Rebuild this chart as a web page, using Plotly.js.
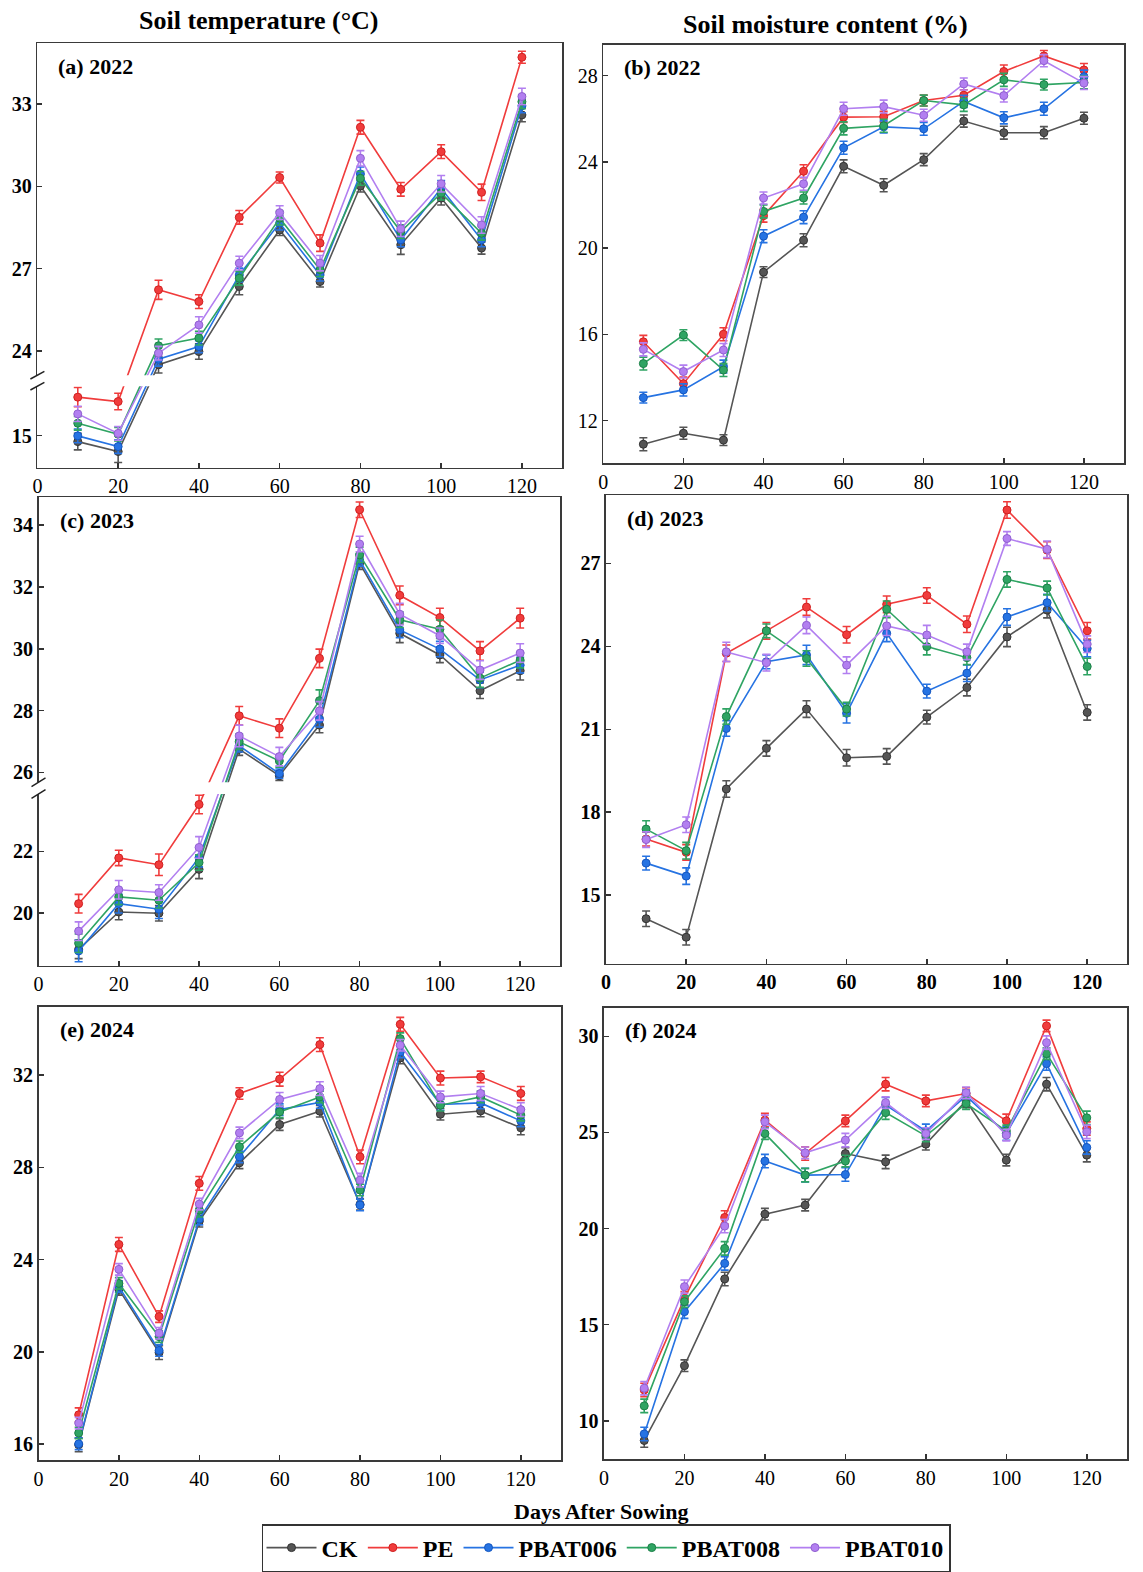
<!DOCTYPE html>
<html>
<head>
<meta charset="utf-8">
<script src="https://cdn.plot.ly/plotly-3.0.1.min.js"></script>
<style>html,body{margin:0;padding:0;background:#fff;}#chart{width:1143px;height:1572px;}</style>
</head>
<body>
<div id="chart"></div>
<script>
// ---------------- DATA ----------------
const days = [10, 20, 30, 40, 50, 60, 70, 80, 90, 100, 110, 120];
const seriesNames = ['CK', 'PE', 'PBAT006', 'PBAT008', 'PBAT010'];
const xTickVals = [0, 20, 40, 60, 80, 100, 120];

// (a) Soil temperature 2022 (°C)
const a_CK   = [14.78, 14.42, 23.50, 23.98, 26.35, 28.41, 26.53, 30.01, 27.87, 29.57, 27.75, 32.60];
const a_PE   = [16.40, 16.24, 26.23, 25.80, 28.87, 30.32, 27.93, 32.15, 29.89, 31.26, 29.78, 34.70];
const a_P006 = [14.99, 14.60, 23.70, 24.16, 26.77, 28.66, 26.77, 30.45, 28.05, 29.93, 28.05, 32.93];
const a_P008 = [15.45, 15.05, 24.19, 24.47, 26.65, 28.84, 26.96, 30.29, 28.35, 29.75, 28.29, 33.08];
const a_P010 = [15.79, 15.08, 23.92, 24.95, 27.20, 29.04, 27.20, 31.02, 28.45, 30.09, 28.59, 33.27];
const a_eCK   = [0.30, 0.40, 0.30, 0.28, 0.30, 0.20, 0.20, 0.22, 0.35, 0.25, 0.22, 0.25];
const a_ePE   = [0.35, 0.30, 0.35, 0.25, 0.25, 0.20, 0.30, 0.25, 0.25, 0.25, 0.30, 0.22];
const a_eP006 = [0.25, 0.25, 0.25, 0.22, 0.25, 0.25, 0.22, 0.25, 0.25, 0.28, 0.25, 0.25];
const a_eP008 = [0.25, 0.25, 0.25, 0.25, 0.25, 0.25, 0.25, 0.25, 0.25, 0.25, 0.25, 0.25];
const a_eP010 = [0.28, 0.25, 0.25, 0.30, 0.25, 0.25, 0.28, 0.28, 0.28, 0.30, 0.30, 0.30];
const a_yTicks = [15, 24, 27, 30, 33];

// (b) Soil moisture content 2022 (%)
const b_CK   = [10.90, 11.41, 11.09, 18.88, 20.36, 23.79, 22.91, 24.10, 25.89, 25.35, 25.35, 26.02];
const b_PE   = [15.65, 13.71, 16.00, 21.50, 23.56, 26.07, 26.09, 26.84, 27.09, 28.19, 28.91, 28.26];
const b_P006 = [13.06, 13.42, 14.50, 20.55, 21.43, 24.65, 25.62, 25.53, 26.80, 26.04, 26.46, 27.95];
const b_P008 = [14.64, 15.96, 14.34, 21.70, 22.32, 25.55, 25.67, 26.84, 26.64, 27.80, 27.58, 27.68];
const b_P010 = [15.30, 14.27, 15.27, 22.32, 22.98, 26.46, 26.56, 26.16, 27.61, 27.07, 28.69, 27.65];
const b_eCK   = [0.30, 0.28, 0.25, 0.25, 0.30, 0.30, 0.30, 0.28, 0.28, 0.30, 0.28, 0.28];
const b_ePE   = [0.30, 0.30, 0.30, 0.30, 0.30, 0.25, 0.25, 0.25, 0.25, 0.30, 0.25, 0.30];
const b_eP006 = [0.25, 0.28, 0.30, 0.30, 0.30, 0.30, 0.28, 0.30, 0.28, 0.28, 0.30, 0.30];
const b_eP008 = [0.30, 0.25, 0.30, 0.30, 0.28, 0.30, 0.30, 0.25, 0.30, 0.30, 0.25, 0.30];
const b_eP010 = [0.30, 0.30, 0.30, 0.28, 0.30, 0.30, 0.30, 0.28, 0.28, 0.30, 0.28, 0.30];
const b_yTicks = [12, 16, 20, 24, 28];

// (c) Soil temperature 2023 (°C)
const c_CK   = [18.83, 20.04, 20.00, 21.42, 26.75, 25.89, 27.53, 32.77, 30.50, 29.80, 28.64, 29.29];
const c_PE   = [20.31, 21.79, 21.57, 23.52, 27.83, 27.43, 29.69, 34.50, 31.73, 31.01, 29.93, 30.99];
const c_P006 = [18.78, 20.31, 20.13, 21.80, 26.86, 25.96, 27.72, 32.87, 30.61, 29.99, 28.99, 29.47];
const c_P008 = [19.03, 20.53, 20.42, 21.64, 26.99, 26.37, 28.32, 33.04, 30.94, 30.63, 29.05, 29.63];
const c_P010 = [19.42, 20.76, 20.67, 22.13, 27.18, 26.51, 27.99, 33.39, 31.12, 30.42, 29.31, 29.86];
const c_eCK   = [0.30, 0.25, 0.25, 0.30, 0.20, 0.15, 0.25, 0.20, 0.30, 0.25, 0.25, 0.30];
const c_ePE   = [0.30, 0.25, 0.35, 0.30, 0.30, 0.30, 0.30, 0.25, 0.30, 0.30, 0.30, 0.32];
const c_eP006 = [0.35, 0.30, 0.30, 0.30, 0.20, 0.15, 0.25, 0.20, 0.25, 0.25, 0.25, 0.25];
const c_eP008 = [0.30, 0.25, 0.25, 0.25, 0.25, 0.20, 0.35, 0.25, 0.25, 0.30, 0.30, 0.25];
const c_eP010 = [0.30, 0.30, 0.25, 0.35, 0.35, 0.30, 0.30, 0.25, 0.35, 0.25, 0.30, 0.30];
const c_yTicks = [20, 22, 26, 28, 30, 32, 34];

// (d) Soil moisture content 2023 (%)
const d_CK   = [14.15, 13.48, 18.84, 20.31, 21.73, 19.97, 20.02, 21.44, 22.51, 24.34, 25.31, 21.61];
const d_PE   = [17.03, 16.55, 23.75, 24.56, 25.42, 24.42, 25.52, 25.84, 24.80, 28.93, 27.48, 24.56];
const d_P006 = [16.16, 15.69, 21.03, 23.44, 23.69, 21.58, 24.47, 22.38, 23.03, 25.06, 25.58, 23.92];
const d_P008 = [17.39, 16.61, 21.46, 24.56, 23.56, 21.73, 25.34, 23.99, 23.59, 26.42, 26.11, 23.27];
const d_P010 = [17.01, 17.55, 23.80, 23.41, 24.76, 23.32, 24.74, 24.41, 23.80, 27.90, 27.51, 24.08];
const d_eCK   = [0.28, 0.28, 0.30, 0.28, 0.30, 0.30, 0.28, 0.25, 0.30, 0.35, 0.28, 0.28];
const d_ePE   = [0.25, 0.28, 0.30, 0.30, 0.30, 0.30, 0.30, 0.28, 0.30, 0.30, 0.30, 0.30];
const d_eP006 = [0.25, 0.30, 0.28, 0.25, 0.35, 0.35, 0.30, 0.25, 0.30, 0.30, 0.30, 0.30];
const d_eP008 = [0.30, 0.30, 0.28, 0.25, 0.28, 0.25, 0.30, 0.30, 0.25, 0.28, 0.25, 0.30];
const d_eP010 = [0.28, 0.28, 0.35, 0.30, 0.30, 0.30, 0.35, 0.35, 0.28, 0.25, 0.30, 0.30];
const d_yTicks = [15, 18, 21, 24, 27];

// (e) Soil temperature 2024 (°C)
const e_CK   = [15.97, 22.71, 19.97, 25.67, 28.20, 29.86, 30.44, 26.40, 32.75, 30.31, 30.45, 29.72];
const e_PE   = [17.27, 24.66, 21.53, 27.31, 31.21, 31.83, 33.33, 28.46, 34.21, 31.88, 31.93, 31.21];
const e_P006 = [16.01, 22.83, 20.06, 25.76, 28.46, 30.51, 30.82, 26.37, 33.01, 30.73, 30.80, 30.02];
const e_P008 = [16.48, 22.97, 20.66, 26.15, 28.90, 30.41, 31.06, 27.02, 33.59, 30.70, 31.06, 30.27];
const e_P010 = [16.91, 23.58, 20.81, 26.41, 29.50, 30.95, 31.42, 27.45, 33.30, 31.06, 31.21, 30.51];
const e_eCK   = [0.30, 0.25, 0.30, 0.25, 0.25, 0.25, 0.25, 0.25, 0.25, 0.25, 0.25, 0.30];
const e_ePE   = [0.30, 0.30, 0.25, 0.30, 0.25, 0.30, 0.30, 0.30, 0.30, 0.30, 0.25, 0.30];
const e_eP006 = [0.25, 0.25, 0.25, 0.25, 0.25, 0.25, 0.25, 0.25, 0.25, 0.25, 0.25, 0.25];
const e_eP008 = [0.25, 0.25, 0.25, 0.30, 0.25, 0.25, 0.25, 0.25, 0.25, 0.25, 0.25, 0.25];
const e_eP010 = [0.25, 0.25, 0.25, 0.25, 0.25, 0.30, 0.30, 0.30, 0.25, 0.25, 0.30, 0.30];
const e_yTicks = [16, 20, 24, 28, 32];

// (f) Soil moisture content 2024 (%)
const f_CK   = [8.98, 12.87, 17.38, 20.75, 21.22, 23.90, 23.47, 24.39, 26.64, 23.56, 27.51, 23.82];
const f_PE   = [11.61, 16.37, 20.58, 25.64, 23.90, 25.60, 27.51, 26.64, 27.02, 25.60, 30.54, 25.20];
const f_P006 = [9.32, 15.68, 18.19, 23.51, 22.78, 22.81, 26.42, 25.08, 26.90, 24.94, 28.58, 24.22];
const f_P008 = [10.78, 16.20, 18.97, 24.94, 22.78, 23.51, 26.03, 24.82, 26.50, 25.08, 29.10, 25.76];
const f_P010 = [11.70, 16.98, 20.13, 25.55, 23.94, 24.60, 26.55, 24.94, 27.06, 24.86, 29.67, 25.03];
const f_eCK   = [0.35, 0.30, 0.35, 0.30, 0.30, 0.30, 0.35, 0.30, 0.35, 0.30, 0.35, 0.35];
const f_ePE   = [0.35, 0.35, 0.35, 0.35, 0.35, 0.30, 0.35, 0.30, 0.30, 0.35, 0.30, 0.35];
const f_eP006 = [0.35, 0.35, 0.35, 0.35, 0.35, 0.35, 0.40, 0.35, 0.30, 0.35, 0.35, 0.35];
const f_eP008 = [0.35, 0.30, 0.35, 0.30, 0.35, 0.30, 0.35, 0.30, 0.30, 0.30, 0.30, 0.35];
const f_eP010 = [0.35, 0.35, 0.35, 0.35, 0.30, 0.35, 0.30, 0.30, 0.30, 0.30, 0.35, 0.35];
const f_yTicks = [10, 15, 20, 25, 30];

// ---------------- STYLE ----------------
const W = 1143, H = 1572;
const colors     = ['#555555', '#f03c3c', '#2673e2', '#2fa463', '#b27ff0'];
const edgeColors = ['#333333', '#d02020', '#1456c0', '#1c8048', '#9160d0'];
const FONT = '"Liberation Serif", "Times New Roman", serif';

const panels = [
  {label: '(a) 2022', box: [37.4, 562.3, 43.3, 468.3], data: [a_CK, a_PE, a_P006, a_P008, a_P010],
   err: [a_eCK, a_ePE, a_eP006, a_eP008, a_eP010], yTicks: a_yTicks, range: [19.75, 35.21],
   brk: {thr: 20, off: 5.92, lo: 22.72, hi: 23.12}, yBold: true, xBold: false},
  {label: '(b) 2022', box: [603.3, 1124, 45, 464], data: [b_CK, b_PE, b_P006, b_P008, b_P010],
   err: [b_eCK, b_ePE, b_eP006, b_eP008, b_eP010], yTicks: b_yTicks, range: [10.01, 29.42],
   brk: null, yBold: false, xBold: false},
  {label: '(c) 2023', box: [38.5, 560.3, 498, 967], data: [c_CK, c_PE, c_P006, c_P008, c_P010],
   err: [c_eCK, c_ePE, c_eP006, c_eP008, c_eP010], yTicks: c_yTicks, range: [19.74, 34.90],
   brk: {thr: 24, off: 1.44, lo: 25.3, hi: 25.68}, yBold: true, xBold: false},
  {label: '(d) 2023', box: [606, 1127.3, 496, 965], data: [d_CK, d_PE, d_P006, d_P008, d_P010],
   err: [d_eCK, d_ePE, d_eP006, d_eP008, d_eP010], yTicks: d_yTicks, range: [12.52, 29.46],
   brk: null, yBold: true, xBold: true},
  {label: '(e) 2024', box: [38.5, 561, 1008.3, 1462.3], data: [e_CK, e_PE, e_P006, e_P008, e_P010],
   err: [e_eCK, e_ePE, e_eP006, e_eP008, e_eP010], yTicks: e_yTicks, range: [15.29, 34.96],
   brk: null, yBold: true, xBold: false},
  {label: '(f) 2024', box: [604, 1127, 1009.3, 1461], data: [f_CK, f_PE, f_P006, f_P008, f_P010],
   err: [f_eCK, f_ePE, f_eP006, f_eP008, f_eP010], yTicks: f_yTicks, range: [8.01, 31.47],
   brk: null, yBold: true, xBold: false}
];

const px = v => v / W;
const py = v => 1 - v / H;

const traces = [];
const layout = {
  width: W, height: H,
  margin: {l: 0, r: 0, t: 0, b: 0},
  paper_bgcolor: '#ffffff', plot_bgcolor: '#ffffff',
  font: {family: FONT, color: '#000'},
  showlegend: true,
  legend: {
    orientation: 'h', x: px(606), xanchor: 'center', y: py(1526), yanchor: 'top',
    bordercolor: '#333', borderwidth: 1.5, bgcolor: '#fff',
    font: {family: FONT, size: 24, color: '#000', weight: 'bold'},
    itemwidth: 50, tracegroupgap: 0
  },
  shapes: [],
  annotations: [
    {text: '<b>Soil temperature (°C)</b>', x: px(259), y: py(21), xref: 'paper', yref: 'paper',
     showarrow: false, font: {family: FONT, size: 26, color: '#000'}, xanchor: 'center', yanchor: 'middle'},
    {text: '<b>Soil moisture content (%)</b>', x: px(825), y: py(25), xref: 'paper', yref: 'paper',
     showarrow: false, font: {family: FONT, size: 26, color: '#000'}, xanchor: 'center', yanchor: 'middle'},
    {text: '<b>Days After Sowing</b>', x: px(601), y: py(1513), xref: 'paper', yref: 'paper',
     showarrow: false, font: {family: FONT, size: 22, color: '#000'}, xanchor: 'center', yanchor: 'middle'}
  ]
};

panels.forEach((p, i) => {
  const n = i + 1;
  const xa = n === 1 ? 'x' : 'x' + n;
  const ya = n === 1 ? 'y' : 'y' + n;
  const xKey = n === 1 ? 'xaxis' : 'xaxis' + n;
  const yKey = n === 1 ? 'yaxis' : 'yaxis' + n;
  const tf = v => (p.brk && v < p.brk.thr) ? v + p.brk.off : v;
  const xDom = [px(p.box[0]), px(p.box[1])];
  const yDom = [py(p.box[3]), py(p.box[2])];

  p.data.forEach((vals, s) => {
    traces.push({
      type: 'scatter', mode: 'lines+markers',
      x: days, y: vals.map(tf),
      name: seriesNames[s], legendgroup: seriesNames[s], showlegend: n === 1,
      xaxis: xa, yaxis: ya,
      line: {color: colors[s], width: 1.6},
      marker: {symbol: 'circle', size: 8, color: colors[s], line: {color: edgeColors[s], width: 1}},
      error_y: {type: 'data', array: p.err[s], visible: true, color: colors[s], thickness: 1.6, width: 4},
      cliponaxis: false
    });
  });

  layout[xKey] = {
    domain: xDom, anchor: ya, range: [0, 130],
    tickmode: 'array', tickvals: xTickVals, ticktext: xTickVals.map(String),
    ticks: 'inside', ticklen: 5, tickwidth: 1.5, tickcolor: '#333',
    showline: true, mirror: true, linecolor: '#3a3a3a', linewidth: 1.6,
    showgrid: false, zeroline: false, fixedrange: true,
    tickfont: {family: FONT, size: 20, color: '#000', weight: p.xBold ? 'bold' : 'normal'}
  };
  layout[yKey] = {
    domain: yDom, anchor: xa, range: p.range,
    tickmode: 'array', tickvals: p.yTicks.map(tf), ticktext: p.yTicks.map(String),
    ticks: 'inside', ticklen: 5, tickwidth: 1.5, tickcolor: '#333',
    showline: true, mirror: true, linecolor: '#3a3a3a', linewidth: 1.6,
    showgrid: false, zeroline: false, fixedrange: true,
    tickfont: {family: FONT, size: 20, color: '#000', weight: p.yBold ? 'bold' : 'normal'}
  };

  layout.annotations.push({
    text: '<b>' + p.label + '</b>', xref: 'paper', yref: 'paper',
    x: px(p.box[0] + 19), y: py(p.box[2] + 23), xanchor: 'left', yanchor: 'middle',
    showarrow: false, font: {family: FONT, size: 22, color: '#000'}
  });

  if (p.brk) {
    // white band that breaks the axis and the lines crossing it
    layout.shapes.push({
      type: 'rect', layer: 'above', xref: 'paper', yref: ya,
      x0: px(p.box[0] - 3), x1: px(p.box[1] - 4), y0: p.brk.lo, y1: p.brk.hi,
      fillcolor: '#ffffff', line: {width: 0}
    });
    [p.brk.lo, p.brk.hi].forEach(yv => {
      layout.shapes.push({
        type: 'line', layer: 'above', xref: 'paper', yref: ya,
        x0: px(p.box[0] - 7), x1: px(p.box[0] + 7), y0: yv - 0.14, y1: yv + 0.14,
        line: {color: '#222', width: 1.5}
      });
    });
  }
});

Plotly.newPlot('chart', traces, layout, {staticPlot: true, displayModeBar: false});
</script>
</body>
</html>
